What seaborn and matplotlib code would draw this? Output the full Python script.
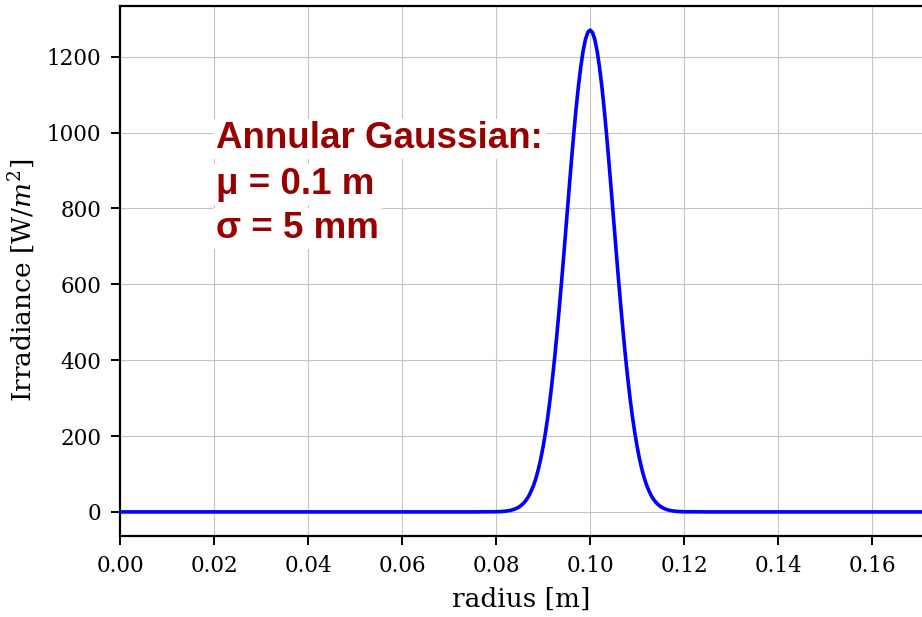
import matplotlib
matplotlib.use("Agg")
import matplotlib.pyplot as plt
import seaborn as sns

# radius [m] and irradiance [W/m^2]
radius = [0.0, 0.05, 0.075,
          0.0800, 0.0805, 0.0810, 0.0815, 0.0820, 0.0825, 0.0830, 0.0835, 0.0840, 0.0845,
          0.0850, 0.0855, 0.0860, 0.0865, 0.0870, 0.0875, 0.0880, 0.0885, 0.0890, 0.0895,
          0.0900, 0.0905, 0.0910, 0.0915, 0.0920, 0.0925, 0.0930, 0.0935, 0.0940, 0.0945,
          0.0950, 0.0955, 0.0960, 0.0965, 0.0970, 0.0975, 0.0980, 0.0985, 0.0990, 0.0995,
          0.1000,
          0.1005, 0.1010, 0.1015, 0.1020, 0.1025, 0.1030, 0.1035, 0.1040, 0.1045, 0.1050,
          0.1055, 0.1060, 0.1065, 0.1070, 0.1075, 0.1080, 0.1085, 0.1090, 0.1095, 0.1100,
          0.1105, 0.1110, 0.1115, 0.1120, 0.1125, 0.1130, 0.1135, 0.1140, 0.1145, 0.1150,
          0.1155, 0.1160, 0.1165, 0.1170, 0.1175, 0.1180, 0.1185, 0.1190, 0.1195, 0.1200,
          0.125, 0.15, 0.2]
irradiance = [0.0, 0.0, 0.0,
              0.4, 0.6, 0.9, 1.4, 1.9, 2.8, 3.9, 5.5, 7.6, 10.4,
              14, 19, 25, 33, 43, 56, 71, 90, 113, 140,
              172, 209, 251, 299, 353, 412, 477, 546, 618, 693,
              770, 847, 922, 994, 1061, 1121, 1172, 1214, 1245, 1264,
              1270,
              1264, 1245, 1214, 1172, 1121, 1061, 994, 922, 847, 770,
              693, 618, 546, 477, 412, 353, 299, 251, 209, 172,
              140, 113, 90, 71, 56, 43, 33, 25, 19, 14,
              10.4, 7.6, 5.5, 3.9, 2.8, 1.9, 1.4, 0.9, 0.6, 0.4,
              0.0, 0.0, 0.0]

x_ticks = [0.00, 0.02, 0.04, 0.06, 0.08, 0.10, 0.12, 0.14, 0.16]
y_ticks = [0, 200, 400, 600, 800, 1000, 1200]

label_lines = ["Annular Gaussian:", "μ = 0.1 m", "σ = 5 mm"]
label_baselines = [958, 839, 721]

sns.set_style("ticks")
plt.rcParams["font.family"] = ["DejaVu Serif"]
plt.rcParams["mathtext.fontset"] = "dejavuserif"

fig = plt.figure(figsize=(9.22, 6.17), dpi=100)
ax = fig.add_axes([0.1302, 0.1313, 0.8698, 0.8590])

sns.lineplot(x=radius, y=irradiance, ax=ax, color="#0000ff", linewidth=2.6,
             sort=False, zorder=3)

ax.set_xlim(0, 0.1706)
ax.set_ylim(-63.5, 1333.5)
ax.set_xticks(x_ticks)
ax.set_xticklabels([f"{t:.2f}" for t in x_ticks])
ax.set_yticks(y_ticks)
ax.grid(True, color="#c4c4c4", linewidth=0.8)
ax.set_axisbelow(True)

for side in ["left", "bottom", "top"]:
    ax.spines[side].set_linewidth(1.6)
    ax.spines[side].set_color("black")
ax.spines["right"].set_visible(False)
ax.tick_params(axis="both", direction="out", length=6.5, width=1.4,
               labelsize=15.5, colors="black", pad=7)

ax.set_xlabel("radius [m]", fontsize=19, labelpad=7, color="black")
ax.set_ylabel("Irradiance [W/$m^2$]", fontsize=19, color="black")
ax.yaxis.set_label_coords(-0.103, 0.483)

# annotation, one white highlight per line
for line, yb in zip(label_lines, label_baselines):
    ax.text(0.0205, yb, line, fontsize=26.5, fontweight="bold",
            family=["Liberation Sans", "DejaVu Sans"], color="#990000",
            va="baseline", ha="left", zorder=4,
            bbox=dict(boxstyle="square,pad=0.08", fc="white", ec="none"))

fig.savefig("out.png", dpi=100)
